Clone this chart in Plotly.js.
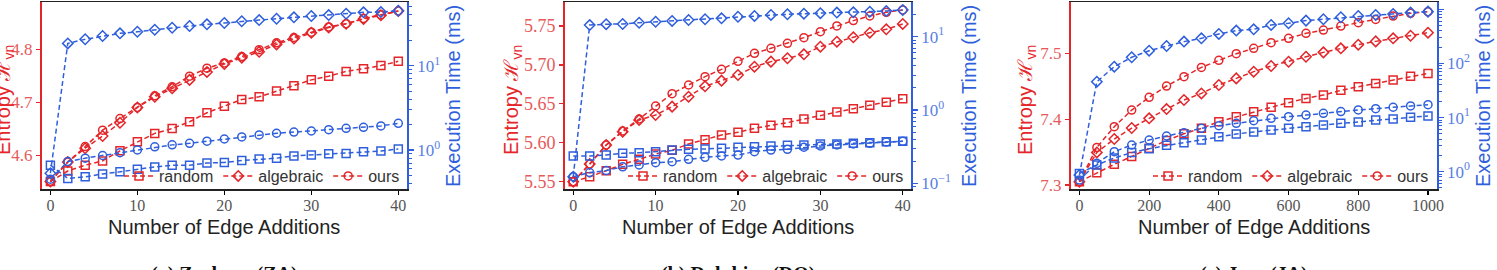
<!DOCTYPE html>
<html><head><meta charset="utf-8">
<script src="https://cdn.plot.ly/plotly-3.0.1.min.js"></script>
<style>html,body{margin:0;padding:0;background:#fff}#chart{width:1497px;height:270px}</style>
</head><body><div id="chart"></div>
<script>
// ---------------- data ----------------
const edgesSmall = [0,2,4,6,8,10,12,14,16,18,20,22,24,26,28,30,32,34,36,38,40];
const edgesJazz = [0,50,100,150,200,250,300,350,400,450,500,550,600,650,700,750,800,850,900,950,1000];
const methodNames = ['random','algebraic','ours'];
const panelCaptions = ['(a) Zachary (ZA)','(b) Dolphins (DO)','(c) Jazz (JA)'];

// Zachary (ZA)
const zaEntropyRandom    = [4.550,4.570,4.581,4.589,4.608,4.625,4.641,4.650,4.663,4.680,4.692,4.705,4.710,4.721,4.731,4.742,4.749,4.758,4.763,4.769,4.777];
const zaEntropyAlgebraic = [4.550,4.587,4.613,4.636,4.661,4.690,4.710,4.726,4.742,4.757,4.772,4.784,4.795,4.809,4.820,4.831,4.841,4.848,4.857,4.864,4.872];
const zaEntropyOurs      = [4.550,4.587,4.616,4.647,4.669,4.690,4.712,4.729,4.749,4.764,4.774,4.786,4.799,4.812,4.822,4.832,4.842,4.848,4.858,4.865,4.872];
const zaTimeRandom    = [0.66,0.46,0.48,0.52,0.55,0.59,0.63,0.66,0.66,0.70,0.71,0.75,0.78,0.80,0.85,0.87,0.90,0.91,0.95,0.97,1.03];
const zaTimeAlgebraic = [0.53,18.4,20.6,22.5,24.2,25.3,26.7,28.2,29.6,31.0,32.1,33.7,34.8,36.1,37.5,38.9,39.9,41.4,43.0,43.3,44.9];
const zaTimeOurs      = [0.45,0.73,0.80,0.86,0.93,1.00,1.09,1.15,1.20,1.27,1.35,1.43,1.51,1.58,1.63,1.68,1.74,1.81,1.86,1.93,2.07];

// Dolphins (DO)
const doEntropyRandom    = [5.5500,5.5564,5.5641,5.5723,5.5787,5.5855,5.5903,5.5984,5.6040,5.6100,5.6134,5.6185,5.6224,5.6258,5.6305,5.6352,5.6395,5.6438,5.6481,5.6519,5.6566];
const doEntropyAlgebraic = [5.5500,5.5727,5.5971,5.6142,5.6292,5.6357,5.6464,5.6592,5.6725,5.6798,5.6870,5.6977,5.7042,5.7085,5.7136,5.7234,5.7298,5.7354,5.7414,5.7457,5.7526];
const doEntropyOurs      = [5.5500,5.5727,5.5971,5.6151,5.6305,5.6472,5.6631,5.6742,5.6849,5.6943,5.7046,5.7149,5.7213,5.7277,5.7350,5.7427,5.7500,5.7569,5.7628,5.7676,5.7706];
const doTimeRandom    = [0.236,0.236,0.243,0.256,0.261,0.270,0.284,0.291,0.294,0.300,0.310,0.316,0.323,0.330,0.333,0.344,0.344,0.351,0.358,0.370,0.374];
const doTimeAlgebraic = [0.123,14.4,14.8,14.9,15.5,16.0,16.4,16.9,17.3,17.8,18.7,19.2,19.8,20.2,20.6,20.9,21.3,21.5,21.9,22.4,23.1];
const doTimeOurs      = [0.123,0.140,0.149,0.168,0.178,0.191,0.197,0.212,0.226,0.236,0.243,0.270,0.284,0.291,0.310,0.323,0.333,0.344,0.351,0.365,0.374];

// Jazz (JA)
const jaEntropyRandom    = [7.3051,7.3187,7.3314,7.3435,7.3557,7.3678,7.3780,7.3861,7.3962,7.4038,7.4114,7.4180,7.4251,7.4316,7.4367,7.4438,7.4494,7.4544,7.4595,7.4651,7.4696];
const jaEntropyAlgebraic = [7.3051,7.3496,7.3699,7.3866,7.4013,7.4154,7.4291,7.4392,7.4519,7.4620,7.4722,7.4808,7.4873,7.4949,7.5015,7.5076,7.5132,7.5182,7.5228,7.5268,7.5314];
const jaEntropyOurs      = [7.3051,7.3572,7.3886,7.4139,7.4332,7.4504,7.4646,7.4787,7.4894,7.4995,7.5076,7.5162,7.5228,7.5304,7.5354,7.5415,7.5466,7.5516,7.5567,7.5608,7.5633];
const jaTimeRandom    = [0.93,1.33,1.79,2.25,2.66,3.07,3.44,3.85,4.44,4.97,5.41,5.89,6.32,6.79,7.29,7.82,8.28,9.02,9.41,10.1,10.7];
const jaTimeAlgebraic = [0.87,46,87,130,172,210,253,291,351,404,427,514,552,618,654,713,754,787,821,869,906];
const jaTimeOurs      = [0.70,1.43,2.34,3.11,3.85,4.56,5.26,6.32,7.09,7.82,8.77,9.68,10.4,11.1,12.0,12.9,13.8,14.6,15.5,16.4,17.3];

// left / right tick labels
const zaEntropyTicks = [4.6,4.7,4.8];
const doEntropyTicks = [5.55,5.60,5.65,5.70,5.75];
const jaEntropyTicks = [7.3,7.4,7.5];
const zaTimeTicks = [1,10];
const doTimeTicks = [0.1,1,10];
const jaTimeTicks = [1,10,100,1000];
const zaTimeTickText = ['10<sup>0</sup>','10<sup>1</sup>'];
const doTimeTickText = ['10<sup>\u22121</sup>','10<sup>0</sup>','10<sup>1</sup>'];
const jaTimeTickText = ['10<sup>0</sup>','10<sup>1</sup>','10<sup>2</sup>','10<sup>3</sup>'];
const smallXTicks = [0,10,20,30,40];
const jazzXTicks = [0,200,400,600,800,1000];

// ---------------- styling ----------------
const W = 1497, H = 270;
const RED = '#e4262a', BLUE = '#2f5fdc';
const RED_TXT = '#e65a5a', BLUE_TXT = '#5a80e4';
const SANS = 'Liberation Sans, Arial, sans-serif';
const SERIF = 'Liberation Serif, Times New Roman, serif';
const symbols = ['square-open','diamond-open','circle-open'];
const px = p => p / W;
const py = p => 1 - p / H;

const panels = [
  {x: edgesSmall, ent: [zaEntropyRandom,zaEntropyAlgebraic,zaEntropyOurs], time: [zaTimeRandom,zaTimeAlgebraic,zaTimeOurs],
   left: 41.7, right: 407, xr: [-1,41], xt: smallXTicks, yr: [4.536,4.889], yt: zaEntropyTicks, yfmt: '.1f',
   lr: [-0.463,1.756], lt: zaTimeTicks, ltt: zaTimeTickText, decades: [-1,0,1],
   legX: 405, entTitleX: 4, timeTitleX: 453, tsize: 17},
  {x: edgesSmall, ent: [doEntropyRandom,doEntropyAlgebraic,doEntropyOurs], time: [doTimeRandom,doTimeAlgebraic,doTimeOurs],
   left: 565, right: 911, xr: [-1,41], xt: smallXTicks, yr: [5.5406,5.7808], yt: doEntropyTicks, yfmt: '.2f',
   lr: [-1.078,1.473], lt: doTimeTicks, ltt: doTimeTickText, decades: [-2,-1,0,1],
   legX: 909, entTitleX: 512, timeTitleX: 969, tsize: 18},
  {x: edgesJazz, ent: [jaEntropyRandom,jaEntropyAlgebraic,jaEntropyOurs], time: [jaTimeRandom,jaTimeAlgebraic,jaTimeOurs],
   left: 1070.7, right: 1436.7, xr: [-25,1025], xt: jazzXTicks, yr: [7.294,7.578], yt: jaEntropyTicks, yfmt: '.1f',
   lr: [-0.32,3.135], lt: jaTimeTicks, ltt: jaTimeTickText, decades: [-1,0,1,2,3],
   legX: 1434, entTitleX: 1026, timeTitleX: 1483, tsize: 17}
];

const traces = [];
const layout = {
  width: W, height: H, margin: {l:0,r:0,t:0,b:0},
  paper_bgcolor: '#fff', plot_bgcolor: '#fff', showlegend: true,
  annotations: []
};
const plotTop = 2, plotBottom = 189;

panels.forEach((p, i) => {
  const n = i + 1;
  const xa = n === 1 ? 'x' : 'x' + n;
  const yl = 'y' + (2*i + 1 === 1 ? '' : (2*i + 1));
  const yr = 'y' + (2*i + 2);
  const legName = n === 1 ? 'legend' : 'legend' + n;
  const xaxKey = n === 1 ? 'xaxis' : 'xaxis' + n;
  const ylKey = 'yaxis' + (2*i + 1 === 1 ? '' : (2*i + 1));
  const yrKey = 'yaxis' + (2*i + 2);

  // blue (execution time) traces on right axis
  p.time.forEach((vals, k) => {
    traces.push({x: p.x, y: vals, xaxis: xa, yaxis: yr, type: 'scatter', mode: 'lines+markers',
      name: methodNames[k], showlegend: false, legend: legName,
      line: {color: BLUE, width: 1.5, dash: '5px,3px'},
      marker: {symbol: symbols[k], size: 8, color: BLUE, line: {color: BLUE, width: 1.5}}});
  });
  // red (entropy) traces on left axis
  p.ent.forEach((vals, k) => {
    traces.push({x: p.x, y: vals, xaxis: xa, yaxis: yl, type: 'scatter', mode: 'lines+markers',
      name: methodNames[k], showlegend: true, legend: legName,
      line: {color: RED, width: 1.5, dash: '5px,3px'},
      marker: {symbol: symbols[k], size: 8, color: RED, line: {color: RED, width: 1.5}}});
  });

  layout[xaxKey] = {
    domain: [px(p.left), px(p.right)], range: p.xr, anchor: yl,
    tickvals: p.xt, ticks: 'outside', ticklen: 4, tickwidth: 1.2, tickcolor: '#000',
    ticklabelstandoff: -3,
    showline: true, linecolor: '#222', linewidth: 1.5, mirror: true,
    showgrid: false, zeroline: false,
    tickfont: {family: SERIF, size: 16, color: '#555'}
  };
  layout[ylKey] = {
    domain: [py(plotBottom), py(plotTop)], range: p.yr, anchor: xa,
    tickvals: p.yt, tickformat: p.yfmt, ticks: 'outside', ticklen: 4, tickwidth: 1.2, tickcolor: RED,
    showline: true, linecolor: RED, linewidth: 1.8, showgrid: false, zeroline: false,
    tickfont: {family: SERIF, size: p.tsize, color: RED_TXT}
  };
  const minorVals = [];
  p.decades.forEach(d => { for (let m = 2; m <= 9; m++) minorVals.push(m * Math.pow(10, d)); });
  layout[yrKey] = {
    type: 'log', overlaying: yl, side: 'right', anchor: xa, range: p.lr,
    tickvals: p.lt, ticktext: p.ltt, ticks: 'outside', ticklen: 5, tickwidth: 1.2, tickcolor: BLUE,
    minor: {tickmode: 'array', tickvals: minorVals, ticks: 'outside', ticklen: 3, tickwidth: 1, tickcolor: BLUE},
    showline: true, linecolor: BLUE, linewidth: 1.8, showgrid: false, zeroline: false,
    tickfont: {family: SERIF, size: 17, color: BLUE_TXT}
  };
  layout[legName] = {
    x: px(p.legX), xanchor: 'right', y: py(176), yanchor: 'middle',
    orientation: 'h', bgcolor: 'rgba(255,255,255,0)', borderwidth: 0,
    font: {family: SANS, size: 16, color: '#333'}, itemwidth: 30, tracegroupgap: 0
  };

  const cx = (p.left + p.right) / 2;
  layout.annotations.push(
    {xref: 'paper', yref: 'paper', x: px(cx), y: py(227), xanchor: 'center', yanchor: 'middle', showarrow: false,
     text: 'Number of Edge Additions', font: {family: SANS, size: 20, color: '#222'}},
    {xref: 'paper', yref: 'paper', x: px(p.entTitleX), y: py(100), xanchor: 'center', yanchor: 'middle', showarrow: false,
     textangle: -90, text: 'Entropy \u210B<sub>vn</sub>', font: {family: SANS, size: 20, color: RED}},
    {xref: 'paper', yref: 'paper', x: px(p.timeTitleX), y: py(96), xanchor: 'center', yanchor: 'middle', showarrow: false,
     textangle: -90, text: 'Execution Time (ms)', font: {family: SANS, size: 20, color: BLUE}},
    {xref: 'paper', yref: 'paper', x: px(cx), y: py(261), xanchor: 'center', yanchor: 'top', showarrow: false,
     text: '<b>' + panelCaptions[i] + '</b>', font: {family: SERIF, size: 20, color: '#111'}}
  );
});

Plotly.newPlot('chart', traces, layout, {displayModeBar: false, staticPlot: true});
</script>
</body></html>
